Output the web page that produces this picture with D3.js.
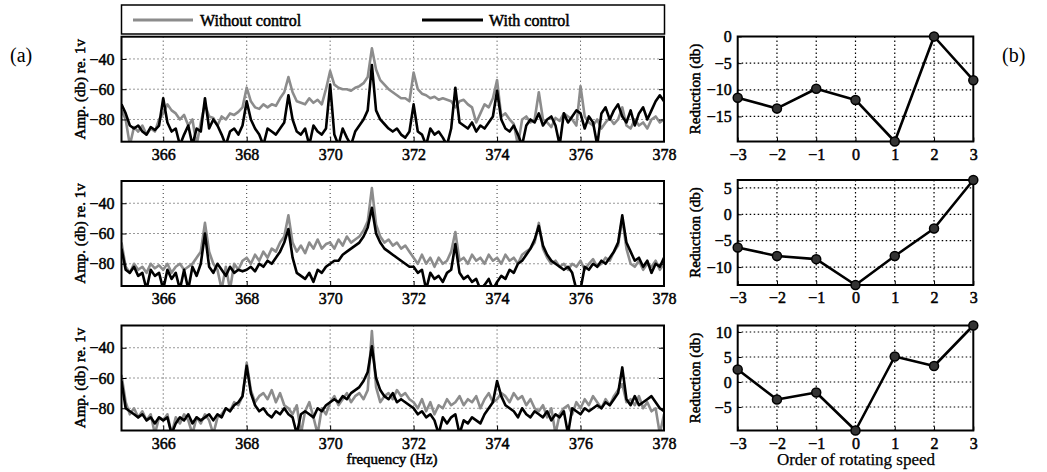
<!DOCTYPE html>
<html>
<head>
<meta charset="utf-8">
<script src="https://cdn.jsdelivr.net/npm/d3@7"></script>
<style>
    body { margin: 0; background: #fff; }
    text { font-family: "Liberation Serif", "Times New Roman", Times, serif; }
    /* heavy serif look: regular face with a thin outline */
    .heavy { fill: #000; stroke: #000; stroke-width: 0.5px; }
    .tick text {
        font-family: "Liberation Serif", "Times New Roman", Times, serif !important;
        font-size: 16px; fill: #000; stroke: #000; stroke-width: 0.5px;
    }
    .tick line { stroke: #000; }
    .domain { display: none; }
</style>
</head>
<body>
<div id="chart"></div>
<script>
// spectrum frequency axis: bins every 0.1 Hz from 365 to 378 Hz
var freqStart = 365;
var freqStep = 0.1;
var freqTicks = [366, 368, 370, 372, 374, 376, 378];
var ampTicks = [-40, -60, -80];

// (a) amplitude spectra, top / middle / bottom
var withoutCtrl1 = [
    -74, -80, -97, -85, -88, -84, -90, -86, -88, -80,
    -76, -70, -74, -76, -80, -77, -84, -80, -97, -82,
    -70, -78, -79, -84, -78, -80, -76, -77, -75, -72,
    -59, -68, -72, -73, -70, -72, -70, -71, -66, -62,
    -52, -62, -68, -69, -70, -66, -69, -67, -70, -60,
    -48, -57, -59, -60, -60, -61, -59, -58, -56, -52,
    -33, -47, -54, -57, -60, -62, -64, -66, -66, -68,
    -49, -60, -63, -64, -66, -65, -67, -66, -67, -68,
    -72, -68, -67, -70, -72, -82, -76, -70, -72, -66,
    -54, -78, -76, -80, -83, -97, -80, -78, -82, -80,
    -62, -80, -82, -85, -79, -81, -76, -78, -80, -84,
    -58, -78, -82, -84, -80, -86, -82, -79, -83, -80,
    -72, -84, -86, -80, -84, -82, -86, -80, -78, -82,
    -80];
var withCtrl1 = [
    -70, -76, -84, -86, -84, -88, -90, -85, -87, -84,
    -66, -82, -88, -86, -97, -90, -84, -97, -86, -88,
    -66, -86, -80, -84, -90, -97, -88, -86, -90, -84,
    -68, -80, -86, -90, -97, -86, -88, -90, -86, -82,
    -64, -80, -88, -90, -86, -97, -84, -88, -90, -86,
    -57, -90, -97, -86, -92, -97, -88, -84, -80, -74,
    -44, -74, -80, -83, -86, -88, -86, -90, -92, -88,
    -70, -88, -90, -97, -86, -90, -88, -92, -97, -86,
    -59, -82, -84, -86, -82, -88, -84, -86, -82, -78,
    -61, -80, -86, -88, -84, -90, -97, -84, -80, -82,
    -76, -84, -80, -78, -84, -97, -76, -82, -78, -74,
    -76, -86, -78, -82, -97, -76, -72, -80, -74, -70,
    -78, -82, -74, -84, -76, -72, -80, -74, -68, -64,
    -68];
var withoutCtrl2 = [
    -66, -82, -86, -80, -84, -82, -86, -80, -83, -81,
    -84, -80, -86, -82, -80, -84, -82, -80, -76, -72,
    -53, -72, -80, -84, -97, -82, -97, -80, -84, -78,
    -76, -80, -74, -78, -72, -76, -70, -72, -66, -62,
    -48, -66, -72, -68, -73, -66, -70, -64, -70, -67,
    -66, -70, -64, -68, -62, -66, -64, -62, -58, -52,
    -30, -54, -62, -66, -64, -68, -66, -70, -68, -72,
    -76, -80, -74, -80, -76, -82, -76, -80, -78, -72,
    -59, -78, -76, -80, -74, -78, -76, -80, -74, -78,
    -76, -80, -74, -78, -76, -80, -74, -72, -70, -66,
    -53, -70, -76, -80, -78, -82, -80, -84, -80, -82,
    -78, -84, -80, -77, -82, -80, -76, -78, -72, -68,
    -50, -70, -80, -82, -78, -84, -80, -82, -78, -84,
    -80];
var withCtrl2 = [
    -70, -84, -86, -82, -88, -86, -97, -84, -88, -86,
    -97, -84, -90, -86, -97, -84, -97, -82, -88, -80,
    -60, -82, -86, -80, -84, -88, -82, -86, -84, -85,
    -84, -82, -85, -80, -82, -78, -80, -76, -72, -66,
    -57, -76, -86, -88, -90, -86, -92, -84, -86, -82,
    -80, -78, -78, -74, -72, -70, -68, -66, -62, -56,
    -43, -60, -66, -70, -72, -74, -76, -78, -80, -82,
    -82, -86, -84, -97, -86, -90, -88, -92, -86, -84,
    -67, -86, -90, -88, -92, -90, -97, -94, -90, -97,
    -92, -88, -90, -84, -86, -80, -78, -74, -70, -64,
    -55, -68, -74, -78, -80, -82, -84, -82, -86, -97,
    -97, -82, -84, -80, -82, -78, -80, -76, -72, -66,
    -48, -66, -72, -78, -76, -82, -78, -86, -80, -82,
    -76];
var withoutCtrl3 = [
    -58, -76, -84, -80, -86, -82, -88, -84, -97, -86,
    -88, -84, -97, -86, -90, -84, -88, -97, -86, -90,
    -84, -88, -97, -86, -84, -80, -82, -76, -78, -72,
    -50, -68, -76, -72, -70, -74, -68, -76, -70, -78,
    -80, -84, -78, -97, -82, -76, -86, -97, -80, -84,
    -76, -72, -78, -74, -70, -76, -72, -70, -74, -68,
    -29, -66, -76, -72, -70, -74, -68, -72, -70, -74,
    -76, -80, -74, -82, -76, -84, -78, -80, -74, -78,
    -76, -72, -78, -74, -76, -72, -80, -74, -70, -76,
    -74, -70, -72, -76, -70, -74, -72, -78, -74, -80,
    -82, -78, -86, -80, -97, -84, -80, -78, -84, -76,
    -80, -74, -78, -72, -76, -80, -74, -78, -72, -68,
    -64, -76, -74, -78, -72, -80, -76, -82, -80, -97,
    -84];
var withCtrl3 = [
    -62, -80, -82, -84, -86, -84, -88, -86, -90, -86,
    -88, -86, -97, -90, -86, -88, -84, -90, -86, -88,
    -86, -84, -88, -84, -86, -80, -82, -78, -76, -72,
    -52, -70, -78, -82, -80, -84, -86, -82, -84, -80,
    -84, -86, -97, -84, -82, -84, -86, -80, -82, -78,
    -76, -74, -76, -72, -74, -70, -68, -66, -62, -56,
    -39, -60, -68, -72, -74, -70, -76, -74, -76, -78,
    -80, -84, -82, -86, -84, -88, -97, -86, -90, -86,
    -84, -97, -88, -90, -86, -88, -90, -84, -80, -76,
    -62, -72, -78, -80, -82, -86, -80, -84, -86, -82,
    -84, -86, -82, -88, -84, -86, -82, -97, -80, -82,
    -84, -80, -82, -80, -78, -80, -76, -78, -74, -70,
    -53, -74, -78, -72, -78, -76, -74, -72, -76, -80,
    -82];

// (b) reduction at each order of rotating speed
var orders = [-3, -2, -1, 0, 1, 2, 3];
var reduction1 = [-11.5, -13.5, -9.8, -11.9, -19.7, 0, -8.2];
var reduction2 = [-6.3, -7.9, -8.5, -13.4, -7.9, -2.7, 6.5];
var reduction3 = [2.5, -3.5, -2.1, -9.7, 5.1, 3.2, 11.3];
var redTicks1 = [0, -5, -10, -15];
var redTicks2 = [5, 0, -5, -10];
var redTicks3 = [10, 5, 0, -5];

var grayColor = "#8c8c8c";

var svg = d3.select("#chart")
    .append("svg")
    .attr("width", 1047)
    .attr("height", 472);

// d3 axes put a sans-serif font on their group; drop it so the serif face is used
function serifAxis(sel)
{
    sel.attr("font-family", null).attr("font-size", null);
}

class SpectrumPanel
{
    constructor(top, without, withc, showXLabel)
    {
        this.left = 121.5;
        this.right = 664;
        this.top = top;
        this.height = 105;
        this.id = "clip" + Math.round(top);

        this.xScale = d3.scaleLinear().domain([365, 378]).range([this.left, this.right]);
        this.yScale = d3.scaleLinear().domain([-94.7, -25.3]).range([this.top + this.height, this.top]);

        this.draw(without, withc, showXLabel);
    }

    draw(without, withc, showXLabel)
    {
        var g = svg.append("g");
        var x = this.xScale, y = this.yScale;
        var bottom = this.top + this.height;

        // dotted grid
        g.selectAll(".vgrid").data(freqTicks.slice(0, -1)).enter().append("line")
            .attr("x1", d => x(d)).attr("x2", d => x(d))
            .attr("y1", this.top).attr("y2", bottom)
            .attr("stroke", "#333").attr("stroke-width", 1).attr("stroke-dasharray", "1,3");
        g.selectAll(".hgrid").data(ampTicks).enter().append("line")
            .attr("x1", this.left).attr("x2", this.right)
            .attr("y1", d => y(d)).attr("y2", d => y(d))
            .attr("stroke", "#333").attr("stroke-width", 1).attr("stroke-dasharray", "1,3");

        // clip the traces to the plot box
        svg.append("clipPath").attr("id", this.id)
            .append("rect")
            .attr("x", this.left).attr("y", this.top)
            .attr("width", this.right - this.left).attr("height", this.height);

        var line = d3.line()
            .x((d, i) => x(freqStart + i * freqStep))
            .y(d => y(d));

        g.append("path")
            .attr("d", line(without))
            .attr("clip-path", "url(#" + this.id + ")")
            .attr("fill", "none").attr("stroke", grayColor)
            .attr("stroke-width", 2.6).attr("stroke-linejoin", "round");
        g.append("path")
            .attr("d", line(withc))
            .attr("clip-path", "url(#" + this.id + ")")
            .attr("fill", "none").attr("stroke", "#000")
            .attr("stroke-width", 2.6).attr("stroke-linejoin", "round");

        // axes with inward ticks
        g.append("g")
            .attr("transform", "translate(0," + bottom + ")")
            .call(d3.axisBottom(x).tickValues(freqTicks).tickSize(-5).tickPadding(7))
            .call(serifAxis);
        g.append("g")
            .attr("transform", "translate(" + this.left + ",0)")
            .call(d3.axisLeft(y).tickValues(ampTicks).tickSize(-5).tickPadding(7))
            .call(serifAxis);
        g.append("g")
            .attr("transform", "translate(" + this.right + ",0)")
            .call(d3.axisRight(y).tickValues(ampTicks).tickSize(-5).tickFormat(""));

        // frame
        g.append("rect")
            .attr("x", this.left).attr("y", this.top)
            .attr("width", this.right - this.left).attr("height", this.height)
            .attr("fill", "none").attr("stroke", "#000").attr("stroke-width", 2);

        // y label
        g.append("text")
            .attr("class", "heavy")
            .attr("transform", "translate(85," + (this.top + this.height / 2) + ") rotate(-90)")
            .style("text-anchor", "middle")
            .style("font-size", "15px")
            .text("Amp. (db) re. 1v");

        if (showXLabel) {
            g.append("text")
                .attr("class", "heavy")
                .attr("x", 392).attr("y", 464)
                .style("text-anchor", "middle")
                .style("font-size", "15px")
                .text("frequency (Hz)");
        }
    }
};

class ReductionPanel
{
    constructor(top, values, domain, ticks, showXLabel)
    {
        this.left = 737.7;
        this.right = 973.3;
        this.top = top;
        this.height = 105;

        this.xScale = d3.scaleLinear().domain([-3, 3]).range([this.left, this.right]);
        this.yScale = d3.scaleLinear().domain(domain).range([this.top + this.height, this.top]);

        this.draw(values, ticks, showXLabel);
    }

    draw(values, ticks, showXLabel)
    {
        var g = svg.append("g");
        var x = this.xScale, y = this.yScale;
        var bottom = this.top + this.height;

        // dotted grid
        g.selectAll(".vgrid").data(orders.slice(1, -1)).enter().append("line")
            .attr("x1", d => x(d)).attr("x2", d => x(d))
            .attr("y1", this.top).attr("y2", bottom)
            .attr("stroke", "#000").attr("stroke-width", 1.2).attr("stroke-dasharray", "1.5,2.5");
        g.selectAll(".hgrid").data(ticks).enter().append("line")
            .attr("x1", this.left).attr("x2", this.right)
            .attr("y1", d => y(d)).attr("y2", d => y(d))
            .attr("stroke", "#000").attr("stroke-width", 1.2).attr("stroke-dasharray", "1.5,2.5");

        // axes
        g.append("g")
            .attr("transform", "translate(0," + bottom + ")")
            .call(d3.axisBottom(x).tickValues(orders).tickFormat(d3.format("d")).tickSize(-4).tickPadding(7))
            .call(serifAxis);
        g.append("g")
            .attr("transform", "translate(" + this.left + ",0)")
            .call(d3.axisLeft(y).tickValues(ticks).tickFormat(d3.format("d")).tickSize(-4).tickPadding(6))
            .call(serifAxis);

        // frame
        g.append("rect")
            .attr("x", this.left).attr("y", this.top)
            .attr("width", this.right - this.left).attr("height", this.height)
            .attr("fill", "none").attr("stroke", "#000").attr("stroke-width", 2);

        // reduction line with markers
        var line = d3.line()
            .x((d, i) => x(orders[i]))
            .y(d => y(d));
        g.append("path")
            .attr("d", line(values))
            .attr("fill", "none").attr("stroke", "#000")
            .attr("stroke-width", 2.6).attr("stroke-linejoin", "round");
        g.selectAll(".dot").data(values).enter().append("circle")
            .attr("cx", (d, i) => x(orders[i]))
            .attr("cy", d => y(d))
            .attr("r", 4.5)
            .attr("fill", "#333").attr("stroke", "#000").attr("stroke-width", 1.5);

        // y label
        g.append("text")
            .attr("class", "heavy")
            .attr("transform", "translate(700," + (this.top + this.height / 2) + ") rotate(-90)")
            .style("text-anchor", "middle")
            .style("font-size", "15px")
            .text("Reduction (db)");

        if (showXLabel) {
            g.append("text")
                .attr("x", 856).attr("y", 465)
                .style("text-anchor", "middle")
                .style("font-size", "17px")
                .style("stroke", "#000").style("stroke-width", "0.25px")
                .text("Order of rotating speed");
        }
    }
};

new SpectrumPanel(36.7, withoutCtrl1, withCtrl1, false);
new SpectrumPanel(181, withoutCtrl2, withCtrl2, false);
new SpectrumPanel(325.5, withoutCtrl3, withCtrl3, true);

new ReductionPanel(36.5, reduction1, [-19.7, 0], redTicks1, false);
new ReductionPanel(180, reduction2, [-13.4, 6.5], redTicks2, false);
new ReductionPanel(325.5, reduction3, [-9.7, 11.3], redTicks3, true);

// legend box
var legend = svg.append("g");
legend.append("rect")
    .attr("x", 121.5).attr("y", 5)
    .attr("width", 543).attr("height", 29)
    .attr("fill", "#fff").attr("stroke", "#000").attr("stroke-width", 1.5);
legend.append("line")
    .attr("x1", 133).attr("x2", 193).attr("y1", 20).attr("y2", 20)
    .attr("stroke", grayColor).attr("stroke-width", 3);
legend.append("text")
    .attr("class", "heavy")
    .attr("x", 200).attr("y", 26)
    .style("font-size", "16px")
    .text("Without control");
legend.append("line")
    .attr("x1", 422).attr("x2", 483).attr("y1", 20).attr("y2", 20)
    .attr("stroke", "#000").attr("stroke-width", 3);
legend.append("text")
    .attr("class", "heavy")
    .attr("x", 489).attr("y", 26)
    .style("font-size", "16px")
    .text("With control");

// panel tags
svg.append("text")
    .attr("x", 10).attr("y", 62)
    .style("font-size", "20px")
    .text("(a)");
svg.append("text")
    .attr("x", 1002).attr("y", 62)
    .style("font-size", "20px")
    .text("(b)");
</script>
</body>
</html>
